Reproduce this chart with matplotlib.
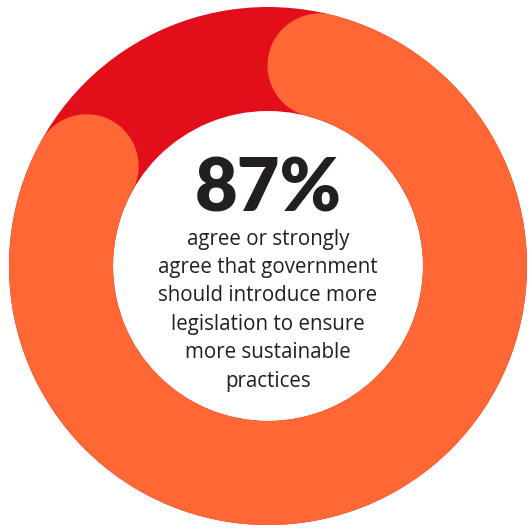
import numpy as np
import matplotlib
matplotlib.use("Agg")
import matplotlib.pyplot as plt
from matplotlib.patches import Wedge, Circle

# The value shown in the ring and the caption
share = 87
headline = "87%"
caption = ["agree or strongly",
           "agree that government",
           "should introduce more",
           "legislation to ensure",
           "more sustainable",
           "practices"]

red = "#E20F1A"
orange = "#FF6734"
ink = "#231F20"

fig = plt.figure(figsize=(5.32, 5.31), dpi=100)
ax = fig.add_axes([0, 0, 1, 1])
ax.set_xlim(0, 532)
ax.set_ylim(531, 0)
ax.set_aspect("equal")
ax.axis("off")

cx, cy = 268, 266
r_out, width = 259, 104
r_mid = r_out - width / 2

# background ring
ax.add_patch(Wedge((cx, cy), r_out, 0, 360, width=width, color=red, lw=0))

# orange arc clockwise from 12 o'clock, round caps inside the 87% extent
cap = np.degrees((width / 2) / r_mid)
total = share / 100 * 360
start = cap            # clockwise degrees from top
end = total - cap
# convert to matplotlib angles (ccw from +x, y axis is inverted so flip)
a1 = -90 + start
a2 = -90 + end
ax.add_patch(Wedge((cx, cy), r_out, a1, a2, width=width, color=orange, lw=0))
for a in (start, end):
    t = np.radians(a)
    px = cx + r_mid * np.sin(t)
    py = cy - r_mid * np.cos(t)
    ax.add_patch(Circle((px, py), width / 2, color=orange, lw=0))

ax.text(268, 190, headline, ha="center", va="center", fontsize=53,
        fontweight="heavy", family="Lato", color=ink)
for i, line in enumerate(caption):
    ax.text(268, 239 + i * 28.4, line, ha="center", va="center",
            fontsize=14.8, family="Open Sans", color=ink)

fig.savefig("out.png", dpi=100)
